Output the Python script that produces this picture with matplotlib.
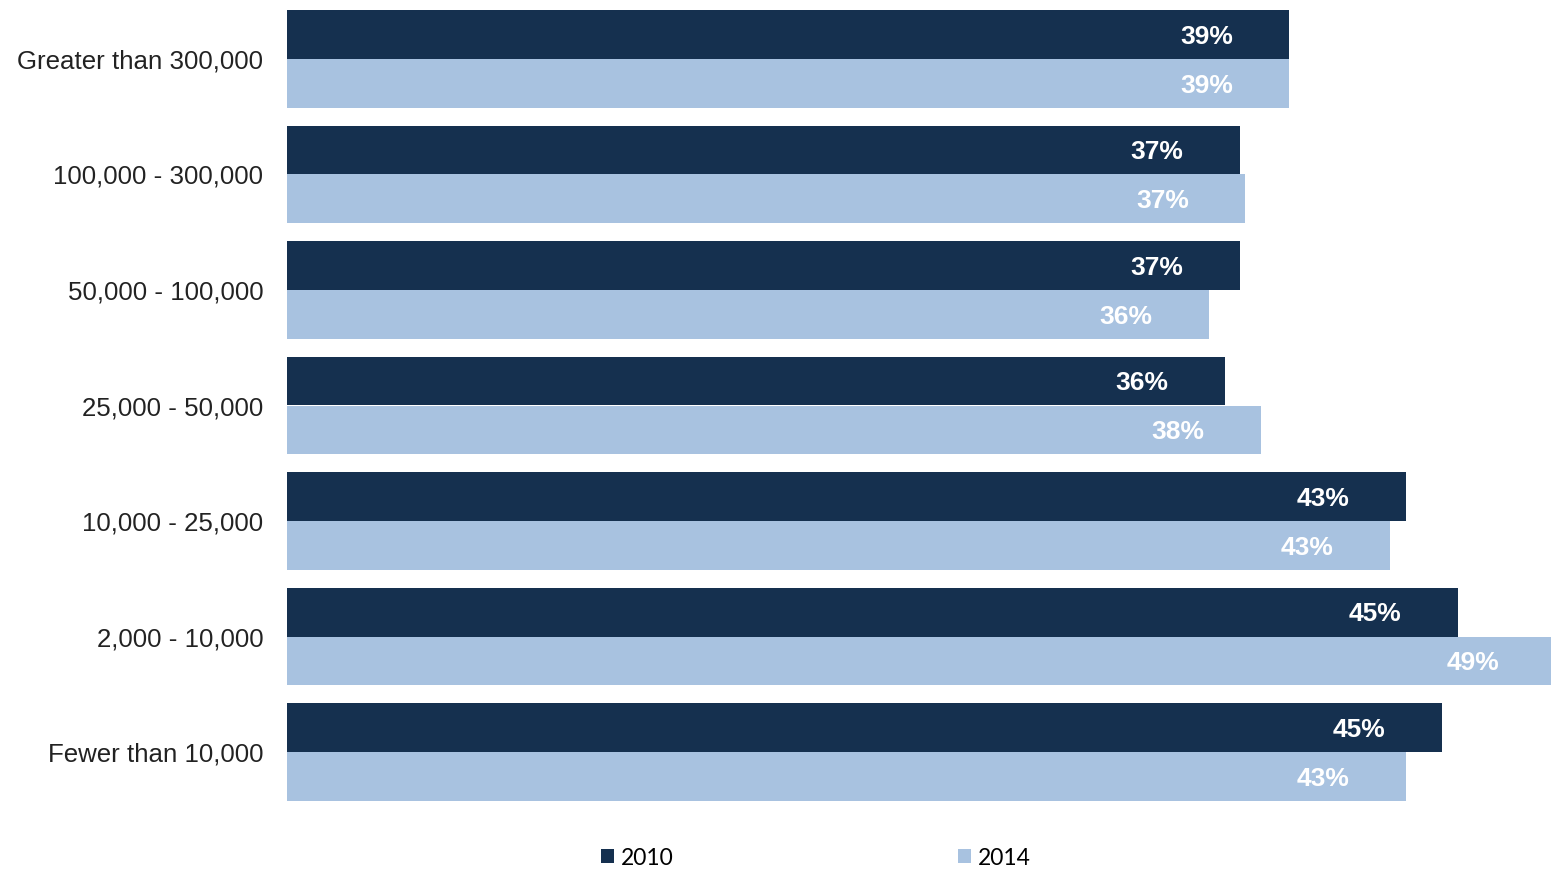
import matplotlib
matplotlib.use("Agg")
import matplotlib.pyplot as plt
import numpy as np

categories = [
    "Greater than 300,000",
    "100,000 - 300,000",
    "50,000 - 100,000",
    "25,000 - 50,000",
    "10,000 - 25,000",
    "2,000 - 10,000",
    "Fewer than 10,000",
]
values_2010 = [38.7, 36.8, 36.8, 36.2, 43.2, 45.2, 44.6]
values_2014 = [38.7, 37.0, 35.6, 37.6, 42.6, 49.0, 43.2]
series_names = ["2010", "2014"]

color_2010 = "#15304F"
color_2014 = "#A8C2E0"

fig = plt.figure(figsize=(15.51, 8.71), dpi=100)
ax = fig.add_axes([287 / 1551, 70 / 871, 1 - 287 / 1551, 791 / 871])

y = np.arange(len(categories))
h = 0.424

bars_a = ax.barh(y - h / 2, values_2010, height=h, color=color_2010, label=series_names[0])
bars_b = ax.barh(y + h / 2, values_2014, height=h, color=color_2014, label=series_names[1])

label_offset = 3.2
for yy, v in zip(y - h / 2, values_2010):
    ax.text(v - label_offset, yy + 0.02, f"{v:.0f}%", ha="center", va="center",
            color="white", fontsize=19, fontweight="bold", family="Liberation Sans")
for yy, v in zip(y + h / 2, values_2014):
    ax.text(v - label_offset, yy + 0.02, f"{v:.0f}%", ha="center", va="center",
            color="white", fontsize=19, fontweight="bold", family="Liberation Sans")

ax.set_xlim(0, (1551 - 287) / 25.9)
ax.set_ylim(len(categories) - 1 + h, -h)
ax.set_yticks(y)
ax.set_yticklabels(categories, fontsize=18.6, family="Liberation Sans", color="#222222")
ax.tick_params(axis="y", length=0, pad=17)
ax.set_xticks([])
for s in ax.spines.values():
    s.set_visible(False)

fig.legend(handles=[bars_a, bars_b], labels=series_names, loc="center",
           bbox_to_anchor=(816 / 1551, 13 / 871), ncol=2, frameon=False,
           prop={"family": "Lato", "size": 16.5},
           handlelength=0.57, handleheight=0.57, handletextpad=0.3,
           columnspacing=12.4, borderpad=0)

fig.savefig("out.png", dpi=100)
